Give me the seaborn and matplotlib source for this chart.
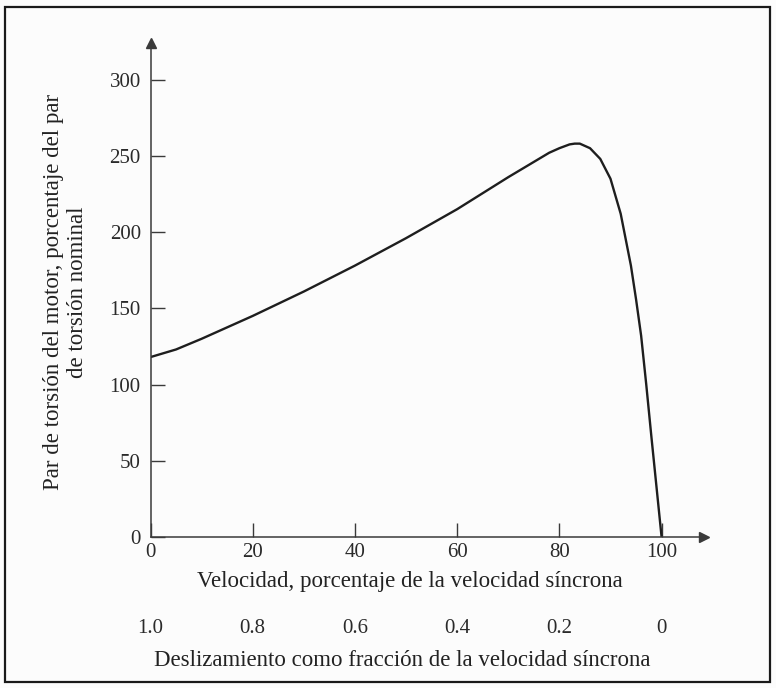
import matplotlib
matplotlib.use("Agg")
import matplotlib.pyplot as plt
import seaborn as sns
import pandas as pd
from matplotlib.patches import Rectangle

# Data
speed_pct = [0, 5, 10, 20, 30, 40, 50, 60, 70, 75, 78, 80, 82, 83, 84, 86, 88, 90, 92, 94, 95, 96, 97, 98, 99, 100]
torque_pct = [118, 123, 130, 145, 161, 178, 196, 215, 236, 246, 252, 255, 257.5, 258, 258, 255, 248, 235, 212, 178, 156, 132, 100, 66, 33, 0]
speed_ticks = [0, 20, 40, 60, 80, 100]
torque_ticks = [0, 50, 100, 150, 200, 250, 300]
slip_ticks = [1.0, 0.8, 0.6, 0.4, 0.2, 0.0]
slip_labels = ["1.0", "0.8", "0.6", "0.4", "0.2", "0"]

df = pd.DataFrame({"speed": speed_pct, "torque": torque_pct})

sns.set_theme(style="white")
plt.rcParams["font.family"] = ["Liberation Serif", "DejaVu Serif"]

W, H = 776, 688
fig = plt.figure(figsize=(W / 100, H / 100), dpi=100)
fig.patch.set_facecolor("#fcfcfc")

# axes placement (pixel based)
x0, x1 = 150.5, 704
y0, y1 = 537, 43
aw, ah = x1 - x0, y0 - y1
ax = fig.add_axes([x0 / W, 1 - y0 / H, aw / W, ah / H])
ax.set_facecolor("none")

sns.lineplot(data=df, x="speed", y="torque", ax=ax, color="#1e1e1e", linewidth=1.7,
             sort=False, estimator=None)

ax.set_xlim(0, 108.3)
ax.set_ylim(0, 324)

for s in ["top", "right"]:
    ax.spines[s].set_visible(False)
for s in ["left", "bottom"]:
    ax.spines[s].set_color("#3a3a3a")
    ax.spines[s].set_linewidth(1.1)

# arrows at axis ends
ax.plot(1, 0, marker=">", color="#3a3a3a", markersize=7, transform=ax.get_yaxis_transform(), clip_on=False)
ax.plot(0, 1, marker="^", color="#3a3a3a", markersize=7, transform=ax.get_xaxis_transform(), clip_on=False)

TICK_FS = 15
LABEL_FS = 16.5

ax.set_xticks(speed_ticks)
ax.set_xticklabels([str(v) for v in speed_ticks])
ax.set_yticks(torque_ticks)
ax.set_yticklabels([str(v) for v in torque_ticks])
ax.tick_params(axis="both", direction="in", length=10, width=1.0, color="#3a3a3a",
               labelsize=TICK_FS, labelcolor="#2a2a2a")
ax.tick_params(axis="x", pad=4)
ax.tick_params(axis="y", pad=7)
ax.tick_params(axis="y", which="both", left=True)
ax.tick_params(axis="x", which="both", bottom=True)

ax.set_xlabel("Velocidad, porcentaje de la velocidad síncrona", fontsize=LABEL_FS, color="#222222")
ax.xaxis.label.set_verticalalignment("center")
ax.xaxis.set_label_coords((410 - x0) / aw, -(582 - y0) / ah)

ax.set_ylabel("Par de torsión del motor, porcentaje del par\nde torsión nominal", fontsize=LABEL_FS,
              color="#222222", linespacing=1.2)
ax.yaxis.set_label_coords(-(x0 - 88) / aw, (537 - 292) / ah)

# secondary slip axis
sec = ax.secondary_xaxis(-(611 - y0) / ah, functions=(lambda v: 1 - v / 100.0, lambda s: (1 - s) * 100.0))
sec.set_xticks(slip_ticks)
sec.set_xticklabels(slip_labels)
sec.spines["bottom"].set_visible(False)
sec.tick_params(axis="x", length=0, pad=6, labelsize=TICK_FS, labelcolor="#2a2a2a")
sec.set_xlabel("Deslizamiento como fracción de la velocidad síncrona", fontsize=LABEL_FS, color="#222222")
sec.xaxis.label.set_verticalalignment("center")
sec.xaxis.set_label_coords((402 - x0) / aw, -(661 - y0) / ah, transform=ax.transAxes)

# frame around the whole figure
fig.patches.append(Rectangle((5 / W, 6 / H), (W - 11) / W, (H - 13) / H, transform=fig.transFigure,
                             fill=False, edgecolor="#1a1a1a", linewidth=1.6))

fig.savefig("out.png", dpi=100, facecolor=fig.get_facecolor())
